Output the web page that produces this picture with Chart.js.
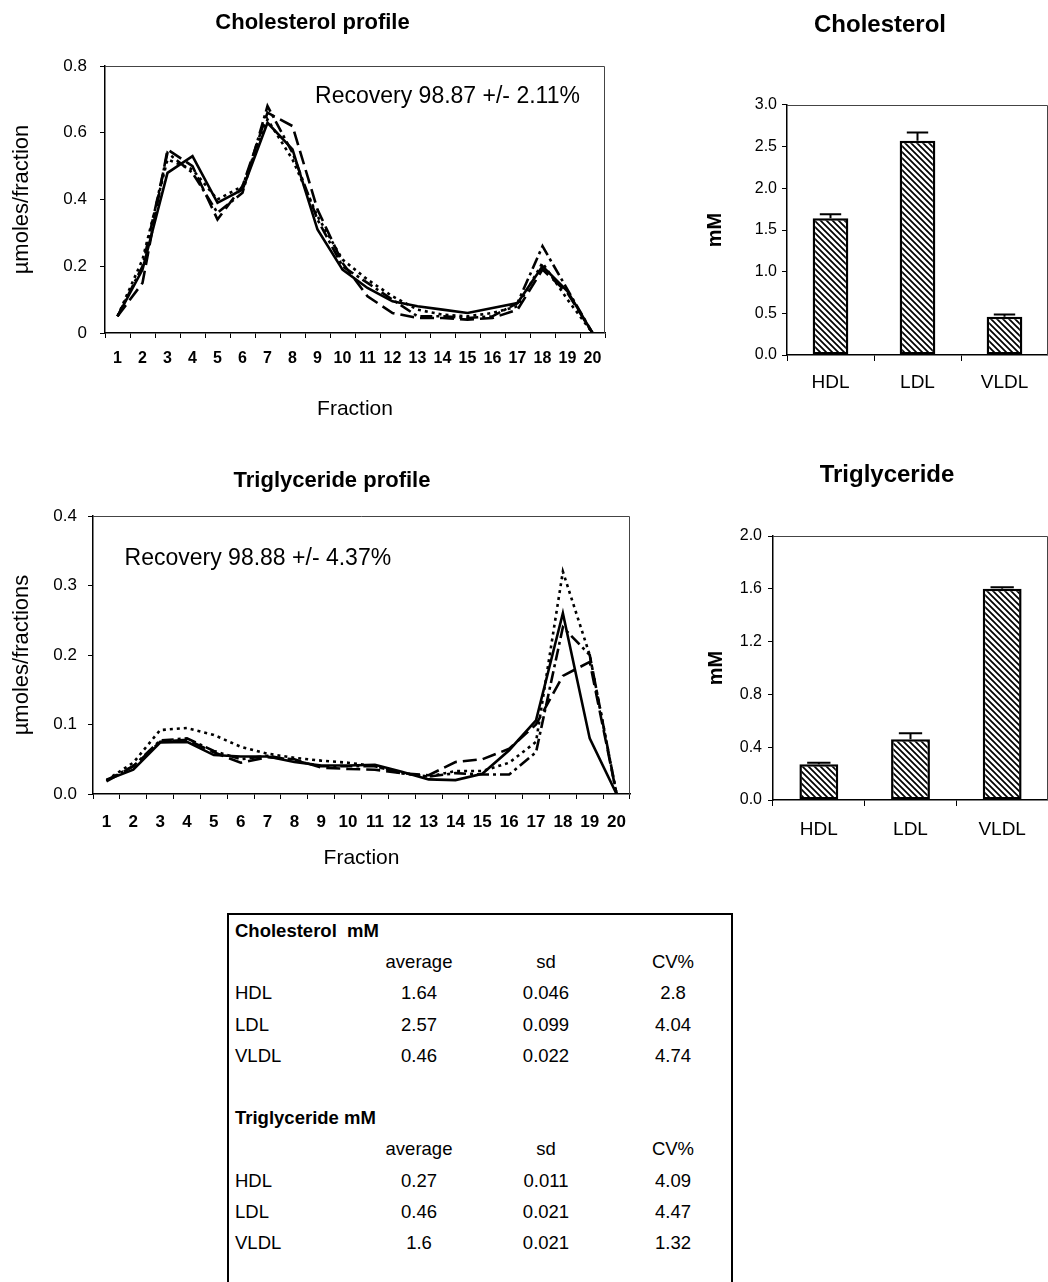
<!DOCTYPE html>
<html><head><meta charset="utf-8"><title>Cholesterol and triglyceride profiles</title>
<script src="https://cdn.jsdelivr.net/npm/chart.js@4.4.1/dist/chart.umd.min.js"></script>
<style>
html,body{margin:0;padding:0;background:#fff;}
body{width:1048px;height:1282px;position:relative;overflow:hidden;font-family:"Liberation Sans",Arial,Helvetica,sans-serif;color:#000;}
canvas{position:absolute;}
#tbl{position:absolute;left:227px;top:913px;width:506px;height:390px;border:2px solid #000;box-sizing:border-box;}
#tbl div{position:absolute;font-size:18.5px;line-height:22px;white-space:nowrap;}
#tbl .b{font-weight:bold;}
</style></head><body>
<canvas id="cholProfile" width="630" height="440" style="left:0;top:0"></canvas>
<canvas id="cholBars" width="358" height="420" style="left:690px;top:0"></canvas>
<canvas id="trigProfile" width="650" height="440" style="left:0;top:450px"></canvas>
<canvas id="trigBars" width="358" height="410" style="left:690px;top:450px"></canvas>
<div id="tbl"></div>
<script>
// ---------------- data ----------------
const fractions = ['1','2','3','4','5','6','7','8','9','10','11','12','13','14','15','16','17','18','19','20'];

const cholRun1 = [0.05, 0.19, 0.48, 0.53, 0.39, 0.43, 0.63, 0.55, 0.31, 0.19, 0.135, 0.095, 0.08, 0.07, 0.06, 0.075, 0.09, 0.20, 0.125, 0];
const cholRun2 = [0.05, 0.15, 0.55, 0.50, 0.34, 0.44, 0.66, 0.62, 0.37, 0.21, 0.11, 0.06, 0.045, 0.045, 0.04, 0.045, 0.07, 0.19, 0.12, 0];
const cholRun3 = [0.05, 0.22, 0.52, 0.49, 0.40, 0.44, 0.64, 0.52, 0.35, 0.22, 0.16, 0.11, 0.07, 0.055, 0.05, 0.06, 0.08, 0.21, 0.10, 0];
const cholRun4 = [0.05, 0.20, 0.54, 0.48, 0.36, 0.42, 0.68, 0.54, 0.34, 0.20, 0.15, 0.10, 0.05, 0.05, 0.045, 0.05, 0.09, 0.26, 0.13, 0];

const trigRun1 = [0.02, 0.035, 0.074, 0.075, 0.056, 0.054, 0.054, 0.046, 0.041, 0.041, 0.042, 0.032, 0.021, 0.02, 0.029, 0.063, 0.106, 0.26, 0.08, 0];
const trigRun2 = [0.02, 0.045, 0.092, 0.095, 0.085, 0.068, 0.058, 0.052, 0.048, 0.045, 0.04, 0.03, 0.025, 0.033, 0.033, 0.045, 0.075, 0.32, 0.20, 0];
const trigRun3 = [0.018, 0.04, 0.075, 0.078, 0.06, 0.045, 0.053, 0.05, 0.038, 0.036, 0.035, 0.03, 0.027, 0.046, 0.05, 0.065, 0.10, 0.17, 0.19, 0];
const trigRun4 = [0.02, 0.04, 0.077, 0.08, 0.062, 0.05, 0.055, 0.048, 0.04, 0.04, 0.04, 0.03, 0.025, 0.03, 0.028, 0.028, 0.06, 0.24, 0.20, 0];

const lipoClasses = ['HDL', 'LDL', 'VLDL'];
const cholBarMeans = [1.64, 2.57, 0.46];
const cholBarErrors = [0.05, 0.10, 0.025];
const trigBarMeans = [0.27, 0.46, 1.6];
const trigBarErrors = [0.012, 0.045, 0.012];

const cholRecovery = 'Recovery 98.87 +/- 2.11%';
const trigRecovery = 'Recovery 98.88 +/- 4.37%';

const tableColumns = ['average', 'sd', 'CV%'];
const cholTableTitle = 'Cholesterol\u00a0 mM';
const cholTableRows = [['HDL','1.64','0.046','2.8'], ['LDL','2.57','0.099','4.04'], ['VLDL','0.46','0.022','4.74']];
const trigTableTitle = 'Triglyceride mM';
const trigTableRows = [['HDL','0.27','0.011','4.09'], ['LDL','0.46','0.021','4.47'], ['VLDL','1.6','0.021','1.32']];

// ---------------- styling ----------------
const FONT = '"Liberation Sans", Arial, Helvetica, sans-serif';
Chart.defaults.font.family = FONT;
Chart.defaults.color = '#000';
const SOLID = [], LONG = [14, 6], DOTS = [3, 4], DASHDOT = [12, 4, 3, 4];

const framePlugin = {
  id: 'frame',
  beforeDatasetsDraw(chart) {
    const a = chart.chartArea, c = chart.ctx;
    c.save();
    c.strokeStyle = '#444'; c.lineWidth = 1;
    c.beginPath();
    c.moveTo(a.left, a.top + 0.5); c.lineTo(a.right - 0.5, a.top + 0.5); c.lineTo(a.right - 0.5, a.bottom);
    c.stroke();
    c.restore();
  }
};
const notePlugin = {
  id: 'note',
  afterDatasetsDraw(chart, args, o) {
    if (!o || !o.text) return;
    const a = chart.chartArea, c = chart.ctx;
    c.save();
    c.font = o.size + 'px ' + FONT; c.fillStyle = '#000';
    c.textAlign = 'center'; c.textBaseline = 'middle';
    c.fillText(o.text, a.left + o.cx * (a.right - a.left), a.top + o.cy * (a.bottom - a.top));
    c.restore();
  }
};
const errPlugin = {
  id: 'errBars',
  afterDatasetsDraw(chart, args, o) {
    if (!o || !o.errors) return;
    const c = chart.ctx, ys = chart.scales.y, meta = chart.getDatasetMeta(0), vals = chart.data.datasets[0].data;
    c.save(); c.strokeStyle = '#000'; c.lineWidth = 2;
    meta.data.forEach((bar, i) => {
      const top = ys.getPixelForValue(vals[i] + o.errors[i]);
      const half = bar.width * 0.3;
      c.beginPath();
      c.moveTo(bar.x, bar.y); c.lineTo(bar.x, top);
      c.moveTo(bar.x - half, top); c.lineTo(bar.x + half, top);
      c.stroke();
    });
    c.restore();
  }
};

function hatch() {
  const n = 6, cv = document.createElement('canvas');
  cv.width = n; cv.height = n;
  const x = cv.getContext('2d');
  x.fillStyle = '#fff'; x.fillRect(0, 0, n, n);
  x.strokeStyle = '#000'; x.lineWidth = 1.7;
  x.beginPath();
  x.moveTo(-1, -1); x.lineTo(n + 1, n + 1);
  x.moveTo(-1, n - 1); x.lineTo(1, n + 1);
  x.moveTo(n - 1, -1); x.lineTo(n + 1, 1);
  x.stroke();
  return document.getElementById('cholBars').getContext('2d').createPattern(cv, 'repeat');
}

function profileConfig(series, dashes, L) {
  return {
    type: 'line',
    data: {
      labels: fractions,
      datasets: series.map((d, i) => ({
        label: 'Run ' + (i + 1), data: d, borderColor: '#000', borderWidth: 2.6,
        borderDash: dashes[i], pointRadius: 0, fill: false, tension: 0
      }))
    },
    options: {
      responsive: false, animation: false, devicePixelRatio: 1,
      layout: { padding: { left: L.pl, right: L.pr, top: 0, bottom: 0 } },
      plugins: {
        legend: { display: false }, tooltip: { enabled: false },
        title: { display: true, text: L.title, color: '#000', font: { size: L.titleSize, weight: 'bold', lineHeight: 1.2 }, padding: { top: L.tpt, bottom: L.tpb } },
        note: { text: L.note, cx: L.noteX, cy: L.noteY, size: L.noteSize }
      },
      scales: {
        x: {
          type: 'category', offset: true, afterFit: a => { a.height = L.xh; },
          grid: { offset: true, drawOnChartArea: false, tickLength: 5, tickColor: '#000', tickWidth: 1 },
          border: { color: '#000', width: 1.5 },
          ticks: { color: '#000', font: { size: L.xtSize, weight: 'bold', lineHeight: 1.2 }, padding: L.xtPad, maxRotation: 0, autoSkip: false },
          title: { display: true, text: 'Fraction', color: '#000', font: { size: 21, lineHeight: 1.2 }, padding: { top: 0, bottom: L.xttPad } }
        },
        y: {
          min: 0, max: L.yMax, afterFit: a => { a.width = L.yw; },
          grid: { drawOnChartArea: false, tickLength: 5, tickColor: '#000', tickWidth: 1 },
          border: { color: '#000', width: 1.5 },
          ticks: { stepSize: L.yStep, color: '#000', font: { size: 17, lineHeight: 1.2 }, padding: L.ytPad, callback: L.yFmt },
          title: { display: true, text: L.yTitle, color: '#000', font: { size: 22, lineHeight: 1.2 }, padding: { top: L.ytt, bottom: 0 } }
        }
      }
    },
    plugins: [framePlugin, notePlugin]
  };
}

function barConfig(means, errors, pattern, L) {
  return {
    type: 'bar',
    data: {
      labels: lipoClasses,
      datasets: [{ label: L.title, data: means, backgroundColor: pattern, borderColor: '#000', borderWidth: 2.5, borderSkipped: false,
        categoryPercentage: 1, barPercentage: L.barPct }]
    },
    options: {
      responsive: false, animation: false, devicePixelRatio: 1,
      layout: { padding: { left: L.pl, right: L.pr, top: 0, bottom: 0 } },
      plugins: {
        legend: { display: false }, tooltip: { enabled: false },
        title: { display: true, text: L.title, color: '#000', font: { size: 24, weight: 'bold', lineHeight: 1.2 }, padding: { top: L.tpt, bottom: L.tpb } },
        errBars: { errors: errors }
      },
      scales: {
        x: {
          afterFit: a => { a.height = L.xh; },
          grid: { offset: true, drawOnChartArea: false, tickLength: 6, tickColor: '#000', tickWidth: 1 },
          border: { color: '#000', width: 1.5 },
          ticks: { color: '#000', font: { size: 19, lineHeight: 1.2 }, padding: L.xtPad, maxRotation: 0 }
        },
        y: {
          min: 0, max: L.yMax, afterFit: a => { a.width = L.yw; },
          grid: { drawOnChartArea: false, tickLength: 5, tickColor: '#000', tickWidth: 1 },
          border: { color: '#000', width: 1.5 },
          ticks: { stepSize: L.yStep, color: '#000', font: { size: 16, lineHeight: 1.2 }, padding: L.ytPad, callback: v => v.toFixed(1) },
          title: { display: true, text: 'mM', color: '#000', font: { size: 20, weight: 'bold', lineHeight: 1.2 }, padding: { top: L.ytt, bottom: 0 } }
        }
      }
    },
    plugins: [framePlugin, errPlugin]
  };
}

const pattern = hatch();

new Chart(document.getElementById('cholProfile'), profileConfig([cholRun1, cholRun2, cholRun3, cholRun4], [SOLID, LONG, DOTS, DASHDOT], {
  title: 'Cholesterol profile', titleSize: 22, tpt: 9.8, tpb: 29.8,
  pl: 20, pr: 25, yw: 85, ytt: -11, xh: 107, xttPad: 18.4, xtSize: 16, xtPad: 11.4, ytPad: 13,
  yMax: 0.8, yStep: 0.2, yFmt: v => (v === 0 ? '0' : v.toFixed(1)), yTitle: '\u00b5moles/fraction',
  note: cholRecovery, noteX: 0.685, noteY: 0.116, noteSize: 23
}));

new Chart(document.getElementById('cholBars'), barConfig(cholBarMeans, cholBarErrors, pattern, {
  title: 'Cholesterol', tpt: 10.6, tpb: 65.6, pl: 20, pr: -2, yw: 77, ytt: -7, xh: 65, xtPad: 10.6, ytPad: 5,
  yMax: 3, yStep: 0.5, barPct: 0.41
}));

new Chart(document.getElementById('trigProfile'), profileConfig([trigRun1, trigRun2, trigRun3, trigRun4], [SOLID, DOTS, LONG, DASHDOT], {
  title: 'Triglyceride profile', titleSize: 22, tpt: 17.8, tpb: 21.8,
  pl: 34, pr: 20, yw: 59, ytt: -25, xh: 96, xttPad: 19.4, xtSize: 17, xtPad: 12.8, ytPad: 11,
  yMax: 0.4, yStep: 0.1, yFmt: v => v.toFixed(1), yTitle: '\u00b5moles/fractions',
  note: trigRecovery, noteX: 0.307, noteY: 0.155, noteSize: 23
}));

new Chart(document.getElementById('trigBars'), barConfig(trigBarMeans, trigBarErrors, pattern, {
  title: 'Triglyceride', tpt: 10.6, tpb: 46.6, pl: 23, pr: -13, yw: 60, ytt: -8.3, xh: 60, xtPad: 12.6, ytPad: 6,
  yMax: 2, yStep: 0.4, barPct: 0.424
}));

// ---------------- table ----------------
(function buildTable() {
  const box = document.getElementById('tbl');
  const colCenters = [190, 317, 444];
  const rowTop = i => 18 + 31.2 * i - 2 - 11;
  function cell(text, row, cx, bold, left) {
    const d = document.createElement('div');
    d.textContent = text;
    if (bold) d.className = 'b';
    d.style.top = rowTop(row) + 'px';
    if (left) { d.style.left = '6px'; }
    else { d.style.left = (cx - 60) + 'px'; d.style.width = '120px'; d.style.textAlign = 'center'; }
    box.appendChild(d);
  }
  function block(title, rows, start) {
    cell(title, start, 0, true, true);
    tableColumns.forEach((c, j) => cell(c, start + 1, colCenters[j], false, false));
    rows.forEach((r, i) => {
      cell(r[0], start + 2 + i, 0, false, true);
      for (let j = 1; j < 4; j++) cell(r[j], start + 2 + i, colCenters[j - 1], false, false);
    });
  }
  block(cholTableTitle, cholTableRows, 0);
  block(trigTableTitle, trigTableRows, 6);
})();
</script>
</body></html>
